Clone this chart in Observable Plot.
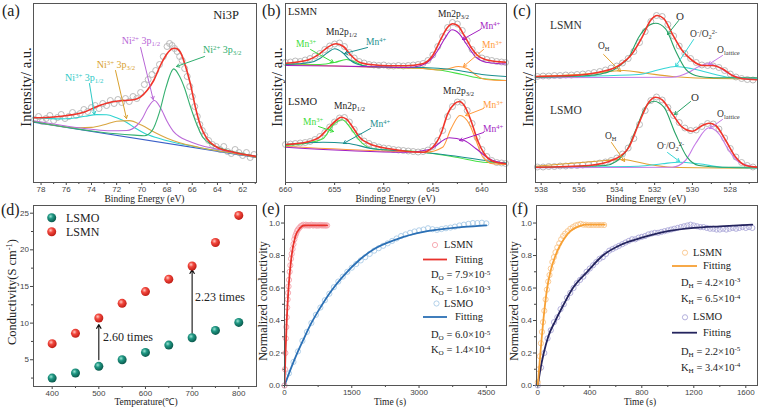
<!DOCTYPE html>
<html><head><meta charset="utf-8">
<script src="https://cdn.jsdelivr.net/npm/d3@7"></script>
<script src="https://cdn.jsdelivr.net/npm/@observablehq/plot@0.6"></script>
<style>
body{margin:0;background:#fff;}
#wrap{position:relative;width:760px;height:410px;overflow:hidden;background:#fff;}
.t{position:absolute;white-space:nowrap;line-height:1;font-family:"Liberation Serif",serif;color:#222;}
.t sup{font-size:0.68em;vertical-align:0;position:relative;top:-0.48em;}
.t sub{font-size:0.68em;vertical-align:0;position:relative;top:0.3em;}
</style></head>
<body><div id="wrap"></div>
<script>
// ---------------- DATA ----------------
// (a) Ni 3p XPS  [binding energy, intensity a.u.]
const aObs = [[78.5,63],[78.2,66],[77.9,61],[77.6,64],[77.3,67],[77.0,62],[76.7,65],[76.4,68],[76.1,64],[75.8,66],[75.5,70],[75.2,67],[74.9,69],[74.6,73],[74.3,71],[74.0,75],[73.7,77],[73.4,74],[73.1,79],[72.8,77],[72.5,82],[72.2,79],[71.9,83],[71.6,80],[71.3,84],[71.0,81],[70.7,86],[70.4,84],[70.1,90],[69.8,98],[69.5,103],[69.2,108],[68.9,112],[68.6,118],[68.3,126],[68.0,136],[67.8,139],[67.6,137],[67.4,134],[67.2,131],[67.0,126],[66.8,122],[66.6,114],[66.4,106],[66.2,96],[66.0,86],[65.8,76],[65.6,66],[65.4,58],[65.2,52],[65.0,47],[64.7,42],[64.4,38],[64.1,36],[63.8,33],[63.5,36],[63.2,31],[62.9,29],[62.6,33],[62.3,30],[62.0,27],[61.7,30],[61.4,25],[61.1,28]];
const aBg = [[78.6,60.3],[60.9,25.1]];
const aCyan = [[78.6,64.7],[77.5,64.1],[76.5,63.6],[75.5,64.2],[74.5,66.2],[73.6,67.9],[72.8,67.8],[72,64.7],[71.2,60.1],[70.5,54.2],[69.8,49.3],[68.8,44.7],[67.5,40.2],[66,36.3],[64,31.8],[60.9,25.4]];
const aOrange = [[78.6,61.3],[75,54.7],[74,55.1],[73,57.7],[72,61.2],[71,61.9],[70,57.2],[69,50.2],[68,44.2],[67,39.7],[65.5,35.3],[63,29.7],[60.9,25.3]];
const aPurple = [[78.6,61.8],[74,53.2],[72.5,51.7],[71.2,52.0],[70.4,57.0],[70,63.2],[69.5,75.2],[69,82],[68.5,74.2],[68,61.2],[67.5,51.2],[67,45.7],[66.4,42],[65.5,37.8],[64,33.3],[62,28.3],[60.9,26.0]];
const aGreen = [[78.6,60.8],[72,48.7],[70.6,47.4],[69.8,46.8],[69.2,51.6],[68.6,70.4],[68.1,94.4],[67.47,113.6],[67,106],[66.6,94],[66.2,78],[65.7,60],[65.2,46],[64.5,38.3],[63.5,33.3],[62,28.8],[60.9,26.1]];
const aEnv = [[78.6,64.7],[77.26,65.3],[75.94,67],[74.61,70.3],[73.56,76],[72.5,80.3],[71.44,82],[70.65,82.7],[70.12,85.3],[69.59,92],[69.06,102],[68.53,117],[68.0,128.7],[67.6,133.7],[67.34,134.3],[66.94,130.3],[66.55,117],[66.15,98.7],[65.75,75.3],[65.35,57],[64.83,43.7],[64.03,35.3],[62.71,30.3],[60.9,26]];

// (b) Mn 2p XPS
const bObsN = [[660,120],[659.5,120.5],[659,121.5],[658.5,121],[658,122.5],[657.5,124],[657,126.5],[656.5,129],[656,133],[655.5,136.5],[655,138.5],[654.5,139.5],[654,136],[653.5,130],[653,124.5],[652.5,121],[652,119.5],[651.5,118],[651,117.5],[650.5,117],[650,117.5],[649.5,116.5],[649,116.5],[648.5,117],[648,116.5],[647.5,117],[647,117.5],[646.5,118],[646,119],[645.5,122],[645,127.5],[644.5,136],[644,146],[643.5,155],[643,160],[642.5,158.5],[642,152],[641.5,142],[641,133],[640.5,127.5],[640,124.5],[639.5,123],[639,122],[638.5,121],[638,120.5],[637.6,120]];
const bEnvN = [[660,119.3],[657.9,122],[656.54,128.7],[655.7,135.3],[654.85,138.7],[654.1,136],[653.32,127],[652.47,120.3],[651.12,117.7],[649.42,116.7],[647.73,116.7],[646.03,118.7],[645.02,127],[644.17,143.7],[643.49,155.3],[642.98,158.7],[642.47,157],[641.8,147],[641.12,135.3],[640.44,127],[639.59,122.7],[638.58,121],[637.5,120.3]];
const bTealN = [[660,118],[657.5,120],[656.5,124],[655.7,130],[655,133.7],[654.2,130],[653.5,123],[652.8,118.7],[651.5,116],[649,115.3],[646,115],[643,113],[640,108],[637.5,106]];
const bGreenN = [[660,118.5],[656.5,118],[655,120],[653.8,123],[652.8,120],[651.8,116],[649,115],[646,114],[644,112],[642,108],[640,104],[637.5,102]];
const bPurpleN = [[660,117],[655,116.5],[650,115.5],[647.5,115],[646.2,117],[645.2,123],[644.5,132],[643.8,143.7],[643.05,152.7],[642.3,148.7],[641.6,138.7],[640.6,125.3],[639.6,120.3],[637.5,118.5]];
const bOrangeN = [[660,118],[650,115],[646,114],[644.5,112.5],[643.5,113.5],[642.4,116],[641.5,114],[640.7,108],[640,104],[639,102.5],[637.5,102]];
const bObsO = [[660,38],[659.5,38.5],[659,39],[658.5,39.5],[658,40],[657.5,41],[657,43],[656.5,46],[656,50],[655.5,55.5],[655,60.5],[654.5,64.5],[654,65],[653.5,60.5],[653,53],[652.5,46],[652,41.5],[651.5,39],[651,37],[650.5,35.5],[650,34.5],[649.5,34],[649,33],[648.5,32.5],[648,32],[647.5,31.5],[647,31],[646.5,30.5],[646,31],[645.5,32.5],[645,36],[644.5,42],[644,52],[643.5,66],[643,76],[642.5,80.5],[642,80],[641.5,72],[641,59],[640.5,45],[640,33],[639.5,26],[639,22],[638.5,20],[638,19.5],[637.6,19]];
const bEnvO = [[660,38],[657.9,40.3],[656.54,45.3],[655.7,53.7],[654.85,62],[654.34,65.3],[653.83,63.7],[653.15,55.3],[652.47,45.3],[651.46,38.7],[649.42,33.7],[647.73,31.3],[646.03,30.3],[645.02,35.3],[644.17,48.7],[643.49,68.7],[642.81,78.7],[642.3,81],[641.8,77],[641.12,62],[640.44,42],[639.76,28.7],[638.92,21.3],[637.5,18.7]];
const bGreenO = [[660,37],[657.5,40],[656.2,43.7],[655.19,57],[654.24,62.7],[653.32,53.7],[652.47,42],[651.1,33.7],[646,30.3],[642.64,25.3],[639.9,20.3],[637.5,19.3]];
const bTealO = [[660,38],[656.2,40.3],[653.8,39.3],[651.1,33.7],[647.7,31.3],[644,28],[641,24],[639,21],[637.5,19.5]];
const bOrangeO = [[660,36],[649.4,31.3],[645.7,30.3],[644.0,35.3],[643.15,53.7],[642.24,67],[641.3,58.7],[640.6,42],[639.9,25.3],[638.9,18.7],[637.5,18]];
const bPurpleO = [[660,35.3],[647.7,30.3],[645.36,33],[643.32,44.7],[641.8,42],[640.6,33.7],[639.25,23.7],[637.5,18.7]];

// (c) O 1s XPS
const cObsN = [[538.2,106],[537.9,106.5],[537.6,106.5],[537.3,107],[537.0,107],[536.7,107.5],[536.4,107.5],[536.1,108],[535.8,108.5],[535.5,109],[535.2,110],[534.9,111],[534.6,112.5],[534.3,114.5],[534.0,116.5],[533.7,119.5],[533.4,124],[533.1,131],[532.8,140],[532.5,151],[532.2,161],[531.9,167],[531.6,166],[531.3,158],[531.0,146.5],[530.7,136.5],[530.4,129],[530.1,124],[529.8,120],[529.5,117.5],[529.2,117],[528.9,116.5],[528.6,115],[528.3,112],[528.0,108.5],[527.7,105.5],[527.4,104],[527.1,103],[526.8,102.5]];
const cEnvN = [[538.3,106],[536.36,107],[534.95,110.3],[533.89,117],[533.19,128.7],[532.66,145.3],[532.22,162],[531.86,167],[531.51,163.7],[531.07,148.7],[530.54,132],[530.01,122],[529.48,117],[528.95,117],[528.42,113.7],[527.89,107],[527.37,103.7],[526.56,102.7]];
const cGreenN = [[538.3,105.3],[535.48,107],[534.24,112],[533.84,117],[533.36,125.3],[532.84,145.3],[532.31,157],[531.95,159.3],[531.42,153.7],[530.9,132],[530.37,113.7],[529.84,107],[529.31,105.3],[528.42,104.7],[526.56,104.7]];
const cOrangeN = [[538.3,106],[535.48,108.7],[533.63,112],[532.48,109.3],[531.07,106],[529.31,104.3],[526.56,103.7]];
const cCyanN = [[538.3,105.3],[532.84,108],[531.78,112.7],[530.9,116],[530.01,113.7],[528.95,108.7],[527.89,104.7],[526.56,103.7]];
const cPurpleN = [[538.3,104.7],[531.07,105.3],[530.19,110.3],[529.66,116],[529.22,118.7],[528.6,115.3],[528.07,108.7],[527.37,104.3],[526.56,103]];
const cObsO = [[538.2,15.5],[537.9,15.5],[537.6,16],[537.3,16],[537.0,16.5],[536.7,16.5],[536.4,17],[536.1,17],[535.8,17.5],[535.5,18],[535.2,18.5],[534.9,19.5],[534.6,20.5],[534.3,22],[534.0,24.5],[533.7,28.5],[533.4,34.5],[533.1,44],[532.8,58],[532.5,72],[532.2,82],[531.9,85.5],[531.6,82.5],[531.3,75],[531.0,67],[530.7,60],[530.4,54.5],[530.1,52],[529.8,52.5],[529.5,56],[529.2,59],[528.9,58.5],[528.6,53.5],[528.3,44.5],[528.0,34],[527.7,25.5],[527.4,20],[527.1,17],[526.8,15.5]];
const cEnvO = [[538.3,15.3],[535.48,17],[534.07,23.7],[533.36,35.3],[532.84,58.7],[532.31,80.3],[531.95,85.3],[531.6,82.7],[531.07,68.7],[530.54,55.3],[530.01,51.3],[529.48,57],[529.13,59.3],[528.77,57],[528.24,42],[527.71,25.3],[527.18,17],[526.56,15.3]];
const cGreenO = [[538.3,15.3],[534.6,17],[533.54,30.3],[533.01,52],[532.49,75.3],[532.04,81.3],[531.51,75.3],[530.9,48.7],[530.28,25.3],[529.66,17],[528.42,15.3],[526.56,15.3]];
const cPurpleO = [[538.3,14.7],[531.07,15.3],[530.37,22],[529.84,38.7],[529.13,54.7],[528.6,48.7],[528.07,32],[527.54,20.3],[526.56,15.3]];
const cOrangeO = [[538.3,16.3],[534.6,22],[533.9,23],[533.54,22.7],[532.49,18.7],[531.07,15.3],[526.56,14.3]];
const cCyanO = [[538.3,15.3],[532.84,16.3],[531.6,18.7],[530.72,20.3],[529.66,18.7],[528.42,15.3],[526.56,14.3]];

// (d) conductivity
const temps = [400,450,500,550,600,650,700,750,800];
const condLSMO = [2.5,3.2,4.1,5.0,6.0,7.0,8.0,9.0,10.1];
const condLSMN = [7.2,8.6,10.7,12.7,14.3,16.0,17.8,21.0,24.7];

// (e) ECR oxygen  [time s, normalized conductivity]
const eObsN = [[0,0],[10,0.1],[20,0.2],[30,0.29],[40,0.36],[50,0.42],[60,0.48],[70,0.53],[80,0.57],[90,0.61],[100,0.65],[115,0.7],[130,0.74],[145,0.78],[160,0.81],[180,0.84],[200,0.87],[220,0.9],[240,0.92],[260,0.935],[280,0.95],[300,0.96],[330,0.97],[360,0.98],[390,0.985],[420,0.99],[450,0.985],[475,0.99],[500,0.985],[525,0.988],[550,0.984],[575,0.987],[600,0.99],[625,0.986],[650,0.985],[675,0.988],[700,0.986],[725,0.984],[750,0.987],[775,0.985],[800,0.988],[825,0.986],[850,0.985],[875,0.987],[900,0.984],[925,0.986],[950,0.985]];
const eFitN = [[0,0],[20,0.18],[50,0.4],[90,0.6],[150,0.78],[240,0.915],[350,0.97],[424,0.985],[500,0.986],[950,0.986]];
const eObsO = [[0,0],[100,0.075],[200,0.145],[300,0.21],[400,0.275],[500,0.33],[600,0.385],[700,0.435],[800,0.48],[900,0.525],[1000,0.565],[1100,0.605],[1200,0.64],[1300,0.67],[1400,0.7],[1500,0.725],[1600,0.748],[1700,0.77],[1800,0.79],[1900,0.81],[2000,0.83],[2100,0.845],[2200,0.86],[2300,0.875],[2400,0.89],[2500,0.905],[2600,0.92],[2700,0.93],[2800,0.94],[2900,0.948],[3000,0.955],[3100,0.96],[3200,0.968],[3300,0.962],[3400,0.958],[3500,0.963],[3600,0.968],[3700,0.972],[3800,0.978],[3900,0.985],[4000,0.99],[4100,0.995],[4200,1.0],[4300,1.0],[4400,1.002],[4500,0.998]];
const eFitO = [[0,0],[150,0.11],[300,0.21],[450,0.3],[600,0.385],[800,0.48],[1050,0.585],[1300,0.67],[1700,0.78],[2000,0.84],[2500,0.9],[3100,0.945],[3600,0.965],[4000,0.976],[4500,0.986]];

// (f) ECR hydrogen
const fObsN = [[0,0.02],[8,0.1],[16,0.18],[24,0.26],[32,0.33],[40,0.39],[50,0.46],[60,0.53],[70,0.59],[80,0.64],[90,0.68],[100,0.72],[112,0.76],[124,0.79],[136,0.82],[150,0.85],[165,0.875],[180,0.9],[195,0.92],[210,0.935],[230,0.95],[250,0.965],[270,0.975],[290,0.985],[310,0.99],[330,0.995],[350,0.99],[370,0.99],[390,0.988],[410,0.988],[430,0.988],[450,0.988],[470,0.988],[490,0.988],[510,0.988]];
const fFitN = [[0,0],[20,0.2],[40,0.38],[72,0.6],[100,0.71],[136,0.8],[170,0.86],[200,0.9],[250,0.95],[315,0.98],[367,0.99],[515,0.99]];
const fObsO = [[0,0],[25,0.11],[50,0.2],[75,0.29],[100,0.34],[125,0.39],[150,0.42],[175,0.47],[200,0.5],[225,0.54],[250,0.57],[275,0.6],[300,0.63],[325,0.65],[350,0.67],[375,0.7],[400,0.72],[425,0.74],[450,0.76],[475,0.78],[500,0.79],[525,0.81],[550,0.83],[575,0.84],[600,0.85],[625,0.86],[650,0.87],[675,0.88],[700,0.89],[725,0.9],[750,0.9],[775,0.91],[800,0.915],[825,0.92],[850,0.93],[875,0.935],[900,0.94],[925,0.94],[950,0.945],[975,0.95],[1000,0.955],[1025,0.96],[1050,0.965],[1075,0.97],[1100,0.975],[1125,0.98],[1150,0.985],[1175,0.99],[1200,0.985],[1225,0.98],[1250,0.975],[1275,0.975],[1300,0.97],[1325,0.965],[1350,0.965],[1375,0.96],[1400,0.96],[1425,0.965],[1450,0.96],[1475,0.965],[1500,0.97],[1525,0.965],[1550,0.97],[1575,0.975],[1600,0.97],[1625,0.975],[1650,0.97]];
const fFitO = [[0,0],[20,0.1],[46,0.2],[80,0.3],[136,0.4],[200,0.5],[270,0.6],[380,0.7],[500,0.8],[650,0.87],[800,0.91],[1000,0.95],[1200,0.97],[1400,0.98],[1650,0.99]];

// ticks
const ticksA = [78,76,74,72,70,68,66,64,62], minorA = [77,75,73,71,69,67,65,63,61];
const ticksB = [660,655,650,645,640], minorB = [657.5,652.5,647.5,642.5];
const ticksC = [538,536,534,532,530,528], minorC = [537,535,533,531,529,527];
const ticksDx = [400,500,600,700,800], minorDx = [450,550,650,750];
const ticksDy = [5,10,15,20,25], minorDy = [2.5,7.5,12.5,17.5,22.5];
const ticksEx = [0,1500,3000,4500], minorEx = [750,2250,3750];
const ticksFx = [0,400,800,1200,1600], minorFx = [200,600,1000,1400];
const ticksNy = [0,0.2,0.4,0.6,0.8,1.0], minorNy = [0.1,0.3,0.5,0.7,0.9];

// annotations (data coordinates)
const aNotes = [
  {h:"Ni3P", x:64.3, y:167, s:12.5, c:"#222"},
  {h:"Ni<sup>2+</sup> 3p<sub>3/2</sub>", x:65.1, y:132, c:"#2fae6e"},
  {h:"Ni<sup>2+</sup> 3p<sub>1/2</sub>", x:71.56, y:141, c:"#b866d6"},
  {h:"Ni<sup>3+</sup> 3p<sub>3/2</sub>", x:73.54, y:117, c:"#d9a12e"},
  {h:"Ni<sup>3+</sup> 3p<sub>1/2</sub>", x:76.06, y:104, c:"#2ec9c6"}];
const aArrows = [
  {x1:65.03,y1:126,x2:67.25,y2:116,c:"#2fae6e"},
  {x1:70.1,y1:135,x2:69.1,y2:83,c:"#b866d6"},
  {x1:72.09,y1:112,x2:71.22,y2:64,c:"#d9a12e"},
  {x1:74.16,y1:99,x2:73.76,y2:68,c:"#2ec9c6"}];
const bNotes = [
  {h:"LSMN", x:659.7, y:170, s:10.5},
  {h:"Mn2p<sub>3/2</sub>", x:644.42, y:167},
  {h:"Mn2p<sub>1/2</sub>", x:655.83, y:149},
  {h:"Mn<sup>3+</sup>", x:658.88, y:137, c:"#3cdc3c"},
  {h:"Mn<sup>4+</sup>", x:651.75, y:139, c:"#1b8f8f"},
  {h:"Mn<sup>4+</sup>", x:640.15, y:155, c:"#a31fc2"},
  {h:"Mn<sup>3+</sup>", x:639.94, y:136, c:"#ff9a3c"},
  {h:"LSMO", x:659.7, y:80, s:10.5},
  {h:"Mn2p<sub>1/2</sub>", x:655.01, y:75},
  {h:"Mn2p<sub>3/2</sub>", x:643.91, y:90},
  {h:"Mn<sup>3+</sup>", x:658.17, y:59, c:"#3cdc3c"},
  {h:"Mn<sup>4+</sup>", x:651.35, y:57, c:"#1b8f8f"},
  {h:"Mn<sup>3+</sup>", x:639.84, y:76, c:"#ff9a3c"},
  {h:"Mn<sup>4+</sup>", x:639.84, y:52, c:"#a31fc2"}];
const bArrows = [
  {x1:657.45,y1:133,x2:655.11,y2:120,c:"#3cdc3c"},
  {x1:651.65,y1:135,x2:654.0,y2:129,c:"#1b8f8f"},
  {x1:640.15,y1:153,x2:641.98,y2:143,c:"#a31fc2"},
  {x1:639.84,y1:133,x2:641.88,y2:116,c:"#ff9a3c"},
  {x1:656.64,y1:56,x2:655.11,y2:51,c:"#3cdc3c"},
  {x1:651.35,y1:54,x2:654.1,y2:39,c:"#1b8f8f"},
  {x1:639.84,y1:74,x2:641.67,y2:67,c:"#ff9a3c"},
  {x1:639.84,y1:50,x2:642.28,y2:42,c:"#a31fc2"}];
const cNotes = [
  {h:"LSMN", x:537.51, y:156, s:11.5},
  {h:"O", x:530.84, y:166, s:11},
  {h:"O<sup>-</sup>/O<sub>2</sub><sup>2-</sup>", x:530.1, y:147},
  {h:"O<sub>lattice</sub>", x:528.67, y:131},
  {h:"O<sub>H</sub>", x:534.97, y:135},
  {h:"LSMO", x:537.51, y:71, s:11.5},
  {h:"O", x:530.05, y:85, s:11},
  {h:"O<sub>lattice</sub>", x:528.67, y:67},
  {h:"O<sub>H</sub>", x:534.6, y:45},
  {h:"O<sup>-</sup>/O<sub>2</sub><sup>2-</sup>", x:531.85, y:35}];
const cArrows = [
  {x1:530.73,y1:162,x2:531.32,y2:148,c:"#27a266"},
  {x1:529.94,y1:143,x2:530.89,y2:116,c:"#34d6d6"},
  {x1:528.41,y1:127,x2:529.15,y2:118,c:"#c57be6"},
  {x1:534.7,y1:128,x2:533.8,y2:111,c:"#e2a232"},
  {x1:530.1,y1:81,x2:530.95,y2:68,c:"#27a266"},
  {x1:528.41,y1:63,x2:529.09,y2:54,c:"#c57be6"},
  {x1:534.28,y1:40,x2:533.59,y2:21,c:"#e2a232"},
  {x1:531.32,y1:30,x2:530.68,y2:21,c:"#34d6d6"}];
const dArrows = [{x:500,y1:5.0,y2:9.8},{x:700,y1:8.6,y2:17.3}];
const dNotes = [{h:"2.60 times", x:510, y:8.1},{h:"2.23 times", x:707, y:13.5}];

// ---------------- RENDER ----------------
const W = document.getElementById("wrap");
const NS = "http://www.w3.org/2000/svg";
const defs = document.createElementNS(NS, "svg");
defs.setAttribute("width", 0); defs.setAttribute("height", 0);
defs.style.position = "absolute";
defs.innerHTML = `<defs>
<radialGradient id="ballRed" cx="0.38" cy="0.35" r="0.65"><stop offset="0" stop-color="#ffc9c2"/><stop offset="0.4" stop-color="#f2473d"/><stop offset="1" stop-color="#c01e16"/></radialGradient>
<radialGradient id="ballTeal" cx="0.38" cy="0.35" r="0.65"><stop offset="0" stop-color="#9be3d3"/><stop offset="0.4" stop-color="#1f9783"/><stop offset="1" stop-color="#0b5a4d"/></radialGradient>
</defs>`;
W.appendChild(defs);

const mL = 36, mR = 8, mT = 8, mB = 26;
function panel(o) {
  const marks = [];
  marks.push(Plot.axisX({ticks: o.xt, tickSize: 3, tickPadding: 0.5, tickFormat: o.xf || (d => String(d)), label: null, fontSize: 8, color: "#444"}));
  marks.push(Plot.axisX({ticks: o.xm, tickSize: 2, tickFormat: () => "", label: null, color: "#444"}));
  if (o.yt) {
    marks.push(Plot.axisY({ticks: o.yt, tickSize: 3, tickPadding: 1.5, tickFormat: o.yf || (d => String(d)), label: null, fontSize: 8, color: "#444"}));
    marks.push(Plot.axisY({ticks: o.ym, tickSize: 2, tickFormat: () => "", label: null, color: "#444"}));
  }
  marks.push(...o.marks);
  marks.push(Plot.frame({stroke: "#555", strokeWidth: 1}));
  const p = Plot.plot({
    width: o.w + mL + mR, height: o.h + mT + mB,
    marginLeft: mL, marginRight: mR, marginTop: mT, marginBottom: mB,
    x: {domain: o.xd},
    y: o.yt ? {domain: o.yd} : {domain: o.yd, axis: null},
    color: {type: "identity"},
    style: {background: "transparent", fontFamily: "Liberation Sans, Arial, sans-serif", fontSize: "8px", color: "#333"},
    marks
  });
  p.style.position = "absolute";
  p.style.left = (o.left - mL) + "px";
  p.style.top = (o.top - mT) + "px";
  W.appendChild(p);
  const sx = p.scale("x"), sy = p.scale("y");
  return {px: v => o.left - mL + sx.apply(v), py: v => o.top - mT + sy.apply(v)};
}

function txt(html, x, y, o = {}) {
  const d = document.createElement("div");
  d.className = "t";
  d.innerHTML = html;
  d.style.left = x + "px"; d.style.top = y + "px";
  d.style.fontSize = (o.s || 10) + "px";
  if (o.c) d.style.color = o.c;
  let tr = "translate(0,-50%)";
  if (o.a === "middle") tr = "translate(-50%,-50%)";
  if (o.rot) tr = "translate(-50%,-50%) rotate(-90deg)";
  d.style.transform = tr;
  W.appendChild(d);
}

const P = d => d[0], Q = d => d[1];
const ln = (data, c, w = 1.1) => Plot.line(data, {x: P, y: Q, stroke: c, strokeWidth: w, curve: "monotone-x", clip: true});
const obs = (data, c = "#b3b3b3", r = 3) => Plot.dot(data, {x: P, y: Q, r, stroke: c, strokeWidth: 0.9, fill: "none"});
const arr = (data) => Plot.arrow(data, {x1: "x1", y1: "y1", x2: "x2", y2: "y2", stroke: "c", strokeWidth: 1, headLength: 5});

// (a)
const pa = panel({left: 33, top: 3, w: 223, h: 179, xd: [78.6, 60.9], yd: [0, 179], xt: ticksA, xm: minorA,
  marks: [obs(aObs), ln(aBg, "#3a5fc8"), ln(aCyan, "#2ed3d0"), ln(aOrange, "#d9a640"), ln(aPurple, "#bb6ad8"), ln(aGreen, "#35b070"), ln(aEnv, "#f0352b", 1.6), arr(aArrows)]});
aNotes.forEach(n => txt(n.h, pa.px(n.x), pa.py(n.y), {s: n.s || 10, c: n.c}));

// (b)
const pb = panel({left: 285, top: 3, w: 221, h: 179, xd: [660, 637.5], yd: [0, 179], xt: ticksB, xm: minorB,
  marks: [obs(bObsN), obs(bObsO),
    ln(bGreenN, "#45e045"), ln(bOrangeN, "#ff9a3c"), ln(bTealN, "#1b8f8f"), ln(bPurpleN, "#a31fc2"), ln(bEnvN, "#f0352b", 1.6),
    ln(bGreenO, "#45e045"), ln(bTealO, "#1b8f8f"), ln(bOrangeO, "#ff9a3c"), ln(bPurpleO, "#a31fc2"), ln(bEnvO, "#f0352b", 1.6),
    arr(bArrows)]});
bNotes.forEach(n => txt(n.h, pb.px(n.x), pb.py(n.y), {s: n.s || 9.5, c: n.c}));

// (c)
const pc = panel({left: 535, top: 3, w: 222, h: 179, xd: [538.3, 526.56], yd: [0, 179], xt: ticksC, xm: minorC,
  marks: [obs(cObsN), obs(cObsO),
    ln(cOrangeN, "#e2a232"), ln(cCyanN, "#34d6d6"), ln(cPurpleN, "#c57be6"), ln(cGreenN, "#27a266"), ln(cEnvN, "#f0352b", 1.6),
    ln(cOrangeO, "#e2a232"), ln(cCyanO, "#34d6d6"), ln(cPurpleO, "#c57be6"), ln(cGreenO, "#27a266"), ln(cEnvO, "#f0352b", 1.6),
    arr(cArrows)]});
cNotes.forEach(n => txt(n.h, pc.px(n.x), pc.py(n.y), {s: n.s || 9.5, c: "#333"}));

// (d)
const pd = panel({left: 33, top: 205, w: 223, h: 181, xd: [360, 838], yd: [1.35, 26.05], xt: ticksDx, xm: minorDx, yt: ticksDy, ym: minorDy,
  marks: [
    Plot.arrow(dArrows, {x1: "x", x2: "x", y1: "y1", y2: "y2", stroke: "#111", strokeWidth: 1.1, headLength: 6}),
    Plot.dot(condLSMO, {x: (d, i) => temps[i], y: d => d, r: 4.5, fill: "url(#ballTeal)"}),
    Plot.dot(condLSMN, {x: (d, i) => temps[i], y: d => d, r: 4.5, fill: "url(#ballRed)"})]});
dNotes.forEach(n => txt(n.h, pd.px(n.x), pd.py(n.y), {s: 12}));

// (e)
const fmt1 = d3.format(".1f");
const pe = panel({left: 284, top: 205, w: 222, h: 180, xd: [0, 4950], yd: [0, 1.108], xt: ticksEx, xm: minorEx, yt: ticksNy, ym: minorNy, yf: fmt1,
  marks: [obs(eObsO, "#a9cbe6", 2.6), obs(eObsN, "#f5a3ab", 2.6), ln(eFitO, "#2b70b5", 1.8), ln(eFitN, "#e8322c", 1.8)]});

// (f)
const pf = panel({left: 536, top: 205, w: 221, h: 180, xd: [-10, 1690], yd: [0, 1.108], xt: ticksFx, xm: minorFx, yt: ticksNy, ym: minorNy, yf: fmt1,
  marks: [obs(fObsO, "#aaa7d8", 2.6), obs(fObsN, "#f9c58a", 2.6), ln(fFitO, "#24245e", 1.8), ln(fFitN, "#f7a034", 1.8)]});

// panel letters & axis titles
[["(a)",2,11],["(b)",262,11],["(c)",513,11],["(d)",1,210],["(e)",262,209],["(f)",512,209]].forEach(([h,x,y]) => txt(h, x, y, {s: 16}));
txt("Binding Energy (eV)", 144.5, 199.5, {s: 9.5, a: "middle"});
txt("Binding Energy (eV)", 395.5, 199.5, {s: 9.5, a: "middle"});
txt("Binding Energy (eV)", 646, 199.5, {s: 9.5, a: "middle"});
txt("Intensity/ a.u.", 26, 87, {s: 14.5, rot: true});
txt("Intensity/ a.u.", 277, 87, {s: 14.5, rot: true});
txt("Intensity/ a.u.", 528, 87, {s: 14.5, rot: true});
txt("Temperature(℃)", 146, 403, {s: 9.5, a: "middle"});
txt("Conductivity(S cm<sup>-1</sup>)", 12, 292, {s: 12.5, rot: true});
txt("Time (s)", 390, 403, {s: 9.5, a: "middle"});
txt("Time (s)", 640, 403, {s: 9.5, a: "middle"});
txt("Normalized conductivity", 263, 301, {s: 12, rot: true});
txt("Normalized conductivity", 514, 301, {s: 12, rot: true});

// legends
const lg = document.createElementNS(NS, "svg");
lg.setAttribute("width", 760); lg.setAttribute("height", 410);
lg.style.position = "absolute"; lg.style.left = "0"; lg.style.top = "0"; lg.style.pointerEvents = "none";
function gC(x, y, c, r = 2.6, fill = "none") { const e = document.createElementNS(NS, "circle"); e.setAttribute("cx", x); e.setAttribute("cy", y); e.setAttribute("r", r); e.setAttribute("fill", fill); if (fill === "none") { e.setAttribute("stroke", c); e.setAttribute("stroke-width", 0.9); } lg.appendChild(e); }
function gL(x1, x2, y, c) { const e = document.createElementNS(NS, "line"); e.setAttribute("x1", x1); e.setAttribute("x2", x2); e.setAttribute("y1", y); e.setAttribute("y2", y); e.setAttribute("stroke", c); e.setAttribute("stroke-width", 1.8); lg.appendChild(e); }
gC(51.7, 217.7, null, 4.5, "url(#ballTeal)"); gC(51.7, 231.7, null, 4.5, "url(#ballRed)");
txt("LSMO", 66, 217.7, {s: 12}); txt("LSMN", 66, 231.7, {s: 12});
gC(435, 245, "#f5a3ab"); gL(423, 447, 259.5, "#e8322c");
gC(436.5, 303.5, "#a9cbe6"); gL(423, 447, 317, "#2b70b5");
txt("LSMN", 444, 245, {s: 10.5}); txt("Fitting", 455, 260, {s: 10.5});
txt("D<sub>O</sub> = 7.9×10<sup>-5</sup>", 431, 275, {s: 10.5});
txt("K<sub>O</sub> = 1.6×10<sup>-3</sup>", 431, 290, {s: 10.5});
txt("LSMO", 444, 303.5, {s: 10.5}); txt("Fitting", 455, 317, {s: 10.5});
txt("D<sub>O</sub> = 6.0×10<sup>-5</sup>", 431, 335, {s: 10.5});
txt("K<sub>O</sub> = 1.4×10<sup>-4</sup>", 431, 350, {s: 10.5});
gC(685, 252.7, "#f9c58a"); gL(672, 697, 266, "#f7a034");
gC(685, 317.3, "#aaa7d8"); gL(672, 697, 332.7, "#24245e");
txt("LSMN", 693, 252.7, {s: 10.5}); txt("Fitting", 703, 266, {s: 10.5});
txt("D<sub>H</sub> = 4.2×10<sup>-3</sup>", 681, 282.7, {s: 10.5});
txt("K<sub>H</sub> = 6.5×10<sup>-4</sup>", 681, 299, {s: 10.5});
txt("LSMO", 693, 317.3, {s: 10.5}); txt("Fitting", 703, 332.7, {s: 10.5});
txt("D<sub>H</sub> = 2.2×10<sup>-5</sup>", 681, 351.7, {s: 10.5});
txt("K<sub>H</sub> = 3.4×10<sup>-4</sup>", 681, 367.7, {s: 10.5});
W.appendChild(lg);
</script></body></html>
